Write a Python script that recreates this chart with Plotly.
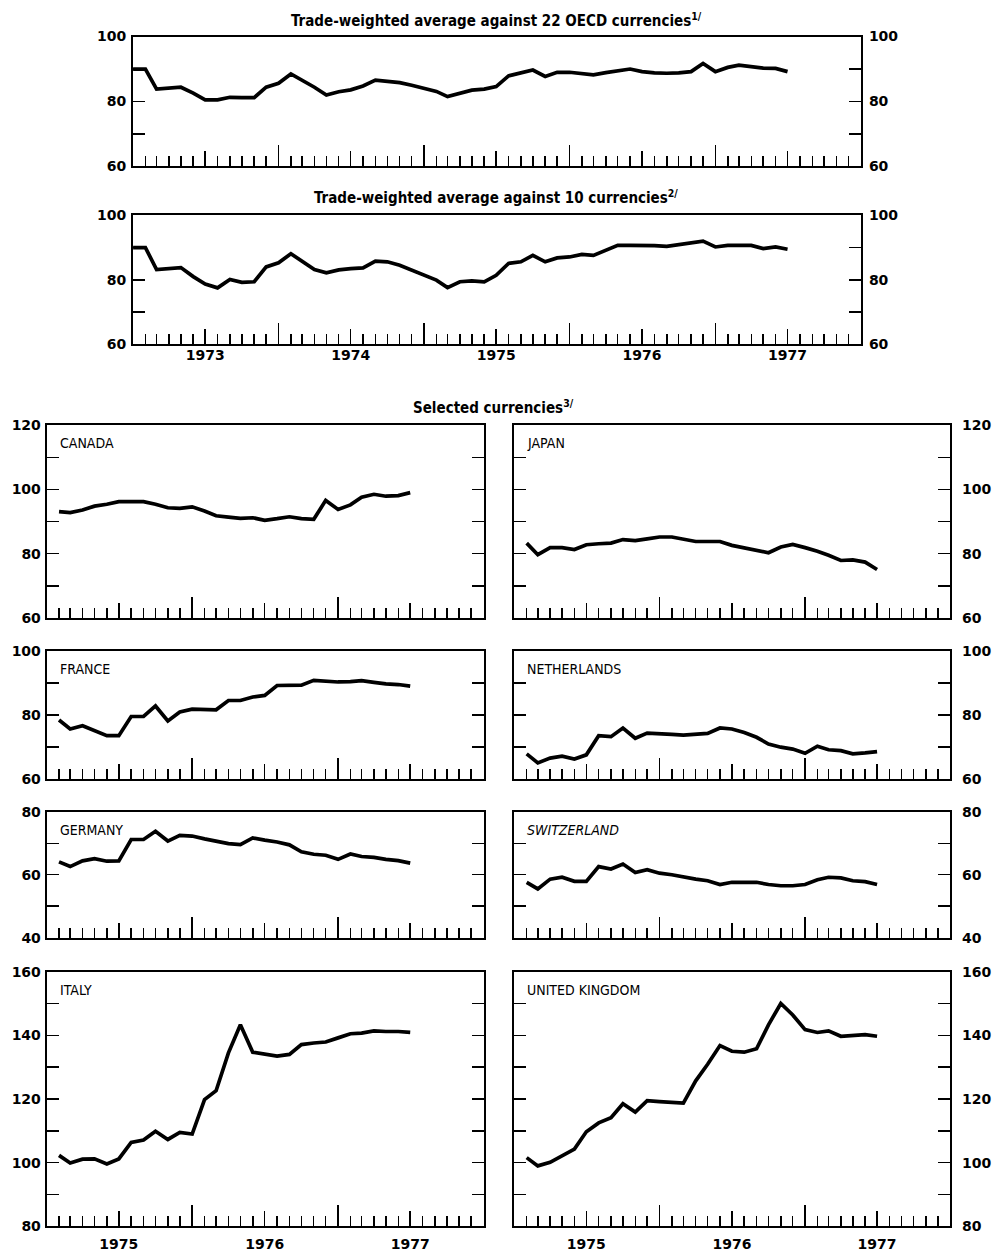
import plotly.graph_objects as go
import pandas as pd

# ---------------- data ----------------
months_top = pd.date_range("1973-01-01", "1977-07-01", freq="MS")   # 55 monthly points
months_low = pd.date_range("1975-02-01", "1977-07-01", freq="MS")   # 30 monthly points

oecd22 = [90.0, 90.0, 83.8, 84.1, 84.4, 82.6, 80.5, 80.5, 81.3, 81.2,
          81.2, 84.4, 85.6, 88.5, 86.6, 84.4, 82.0, 83.0, 83.6, 84.8,
          86.6, 86.3, 85.8, 85.0, 84.0, 83.1, 81.5, 82.5, 83.5, 83.8,
          84.6, 87.9, 88.7, 89.7, 87.7, 89.0, 89.0, 88.5, 88.2, 88.9,
          89.5, 90.0, 89.2, 88.8, 88.7, 88.8, 89.2, 91.7, 89.2, 90.5,
          91.2, 90.8, 90.3, 90.2, 89.2]

ten_currencies = [90.0, 90.0, 83.2, 83.6, 83.8, 81.0, 78.7, 77.5, 80.1, 79.2,
                  79.4, 84.0, 85.3, 88.1, 85.8, 83.2, 82.2, 83.1, 83.5, 83.7,
                  85.8, 85.6, 84.5, 82.9, 81.3, 79.9, 77.6, 79.4, 79.7, 79.4,
                  81.4, 85.1, 85.6, 87.6, 85.6, 86.8, 87.1, 87.9, 87.6, 89.2,
                  90.7, 90.7, 90.7, 90.6, 90.4, 90.9, 91.4, 92.0, 90.2, 90.7,
                  90.7, 90.7, 89.7, 90.2, 89.5]

canada = [93.1, 92.8, 93.6, 94.8, 95.4, 96.2, 96.2, 96.2, 95.4, 94.3,
          94.1, 94.6, 93.3, 91.8, 91.4, 91.0, 91.2, 90.4, 90.9, 91.5,
          90.9, 90.7, 96.6, 93.8, 95.2, 97.6, 98.5, 97.9, 98.1, 99.0]

japan = [83.3, 79.7, 81.9, 81.9, 81.3, 82.8, 83.1, 83.3, 84.4, 84.1,
         84.6, 85.2, 85.2, 84.4, 83.8, 83.8, 83.8, 82.6, 81.8, 81.0,
         80.3, 82.1, 82.9, 81.9, 80.8, 79.5, 77.9, 78.1, 77.4, 75.1]

france = [78.4, 75.6, 76.6, 75.0, 73.5, 73.5, 79.5, 79.5, 82.8, 78.1,
          80.9, 81.8, 81.6, 81.6, 84.5, 84.5, 85.6, 86.1, 89.2, 89.2,
          89.3, 90.8, 90.5, 90.3, 90.4, 90.7, 90.2, 89.7, 89.5, 89.0]

netherlands = [67.8, 65.0, 66.5, 67.1, 66.2, 67.5, 73.5, 73.2, 75.9, 72.7,
               74.3, 74.2, 73.9, 73.7, 74.0, 74.2, 75.9, 75.6, 74.5, 73.0,
               70.9, 69.9, 69.3, 68.0, 70.2, 69.1, 68.8, 67.8, 68.1, 68.5]

germany = [64.1, 62.6, 64.4, 65.1, 64.3, 64.4, 71.2, 71.2, 73.8, 70.7,
           72.5, 72.3, 71.4, 70.7, 69.9, 69.6, 71.7, 71.0, 70.4, 69.5,
           67.3, 66.5, 66.2, 64.9, 66.6, 65.8, 65.5, 64.9, 64.5, 63.7]

switzerland = [57.6, 55.5, 58.6, 59.2, 57.9, 57.9, 62.6, 61.8, 63.4, 60.7,
               61.6, 60.5, 60.0, 59.2, 58.6, 58.1, 56.9, 57.6, 57.6, 57.6,
               56.9, 56.5, 56.5, 56.9, 58.4, 59.2, 59.0, 58.1, 57.8, 56.9]

italy = [102.3, 99.9, 101.1, 101.2, 99.6, 101.2, 106.4, 107.1, 109.9, 107.3,
         109.5, 109.0, 119.8, 122.6, 134.5, 143.3, 134.7, 134.2, 133.5, 134.0,
         137.1, 137.6, 137.9, 139.2, 140.5, 140.7, 141.4, 141.2, 141.2, 140.9]

united_kingdom = [101.6, 99.0, 100.1, 102.3, 104.3, 109.7, 112.5, 114.1, 118.5, 115.9,
                  119.5, 119.2, 118.8, 118.7, 125.7, 130.9, 136.8, 135.0, 134.7, 135.8,
                  143.3, 150.0, 146.4, 141.8, 140.9, 141.4, 139.7, 140.0, 140.2, 139.7]

year_labels_top = ["1973", "1974", "1975", "1976", "1977"]
year_labels_low = ["1975", "1976", "1977"]

titles = ["Trade-weighted average against 22 OECD currencies<sup>1/</sup>",
          "Trade-weighted average against 10 currencies<sup>2/</sup>",
          "Selected currencies<sup>3/</sup>"]

# ---------------- layout helpers ----------------
W, H = 992, 1252
FONT_NUM = "DejaVu Sans"
FONT_COND = "Liberation Sans Narrow, DejaVu Sans Condensed, Arial Narrow, sans-serif"

# vertical calibration of the photographed page (content lands slightly compressed)
V_OFF, V_SCALE = 7.4, 0.9874


def py(t):
    """page-pixel target -> figure pixel"""
    return (t - V_OFF) / V_SCALE


def dom_x(a, b):
    return [a / W, b / W]


def dom_y(a, b):
    return [1 - py(b) / H, 1 - py(a) / H]


def axn(kind, n):
    return f"{kind}axis" if n == 1 else f"{kind}axis{n}"


def axr(kind, n):
    return kind if n == 1 else f"{kind}{n}"


TOP_RANGE = ["1973-01-01", "1978-01-01"]
LOW_RANGE = ["1975-01-01", "1978-01-01"]
LEFT_COL, RIGHT_COL = (47, 487), (518, 957)

# key, series, x, label, box x, box y, y range, y label side, year labels
panels = [
    ("oecd22", oecd22, months_top, None, (134, 867), (36, 166), (60, 100), "both", None),
    ("ten", ten_currencies, months_top, None, (134, 867), (215, 344), (60, 100), "both", year_labels_top),
    ("canada", canada, months_low, "CANADA", LEFT_COL, (425, 618), (60, 120), "left", None),
    ("japan", japan, months_low, "JAPAN", RIGHT_COL, (425, 618), (60, 120), "right", None),
    ("france", france, months_low, "FRANCE", LEFT_COL, (651, 779), (60, 100), "left", None),
    ("nl", netherlands, months_low, "NETHERLANDS", RIGHT_COL, (651, 779), (60, 100), "right", None),
    ("de", germany, months_low, "GERMANY", LEFT_COL, (812, 938), (40, 80), "left", None),
    ("ch", switzerland, months_low, "<i>SWITZERLAND</i>", RIGHT_COL, (812, 938), (40, 80), "right", None),
    ("it", italy, months_low, "ITALY", LEFT_COL, (972, 1227), (80, 160), "left", year_labels_low),
    ("uk", united_kingdom, months_low, "UNITED KINGDOM", RIGHT_COL, (972, 1227), (80, 160), "right", year_labels_low),
]

fig = go.Figure()
layout = dict(
    width=W, height=H,
    margin=dict(l=0, r=0, t=0, b=0),
    paper_bgcolor="white", plot_bgcolor="white",
    showlegend=False, hovermode=False,
    annotations=[],
)

tickfont = dict(family=FONT_NUM, size=14, color="black", weight="bold")
N = len(panels)
extra = N  # counter for extra (overlay) axes

for i, (key, series, xs, label, bx, by, yr, yside, years) in enumerate(panels, start=1):
    xr, yrf = axr("x", i), axr("y", i)
    rng = TOP_RANGE if i <= 2 else LOW_RANGE
    first_year = int(rng[0][:4])
    last_year = int(rng[1][:4])
    july = [f"{y}-07-01" for y in range(first_year, last_year)]
    jan = [f"{y}-01-01" for y in range(first_year + 1, last_year)]

    fig.add_trace(go.Scatter(x=xs, y=series, mode="lines", xaxis=xr, yaxis=yrf,
                             line=dict(color="black", width=3.7), hoverinfo="skip",
                             name=key))

    layout[axn("x", i)] = dict(
        domain=dom_x(*bx), range=rng, type="date", anchor=yrf,
        showline=True, linecolor="black", linewidth=2, mirror=True,
        ticks="inside", ticklen=15, tickwidth=1.5, tickcolor="black",
        tickmode="array", tickvals=july,
        ticktext=(years if years else [" "] * len(july)),
        showticklabels=bool(years), tickfont=tickfont,
        ticklabelstandoff=(-3 if i <= 2 else 4),
        minor=dict(ticks="inside", ticklen=10, tickwidth=1.5, tickcolor="black",
                   tickmode="linear", dtick="M1", tick0=rng[0], showgrid=False),
        showgrid=False, zeroline=False, fixedrange=True,
    )

    yvals = list(range(yr[0], yr[1] + 1, 10))
    ytext = [str(v) if (v - yr[0]) % 20 == 0 else " " for v in yvals]
    ybase = dict(
        range=list(yr), tickmode="array", tickvals=yvals, ticktext=ytext,
        ticks="inside", ticklen=12, tickwidth=1.5, tickcolor="black",
        tickfont=tickfont, showgrid=False, zeroline=False, fixedrange=True,
    )
    standoff = {"both": 2, "left": 1, "right": 7}[yside]
    layout[axn("y", i)] = dict(domain=dom_y(*by), anchor=xr,
                               side=("left" if yside == "both" else yside),
                               showline=True, linecolor="black", linewidth=2,
                               mirror=(True if yside == "both" else "ticks"),
                               ticklabelstandoff=standoff, **ybase)

    # tall January ticks on an overlaid x axis (carries an invisible copy of the series)
    extra += 1
    xo = axr("x", extra)
    layout[axn("x", extra)] = dict(
        overlaying=xr, anchor=yrf, side="bottom", type="date", range=rng,
        ticks="inside", ticklen=21, tickwidth=1.5, tickcolor="black",
        tickmode="array", tickvals=jan, showticklabels=False,
        showgrid=False, zeroline=False, showline=False, fixedrange=True,
    )
    fig.add_trace(go.Scatter(x=xs, y=series, mode="lines", xaxis=xo, yaxis=yrf,
                             line=dict(color="rgba(0,0,0,0)", width=0),
                             hoverinfo="skip", showlegend=False))

    # right-side labels for the two top panels
    if yside == "both":
        yo_n = 100 + i
        yo = axr("y", yo_n)
        layout[axn("y", yo_n)] = dict(overlaying=yrf, anchor=xr, side="right",
                                      showline=False, ticklabelstandoff=7, **ybase)
        fig.add_trace(go.Scatter(x=xs, y=series, mode="lines", xaxis=xr, yaxis=yo,
                                 line=dict(color="rgba(0,0,0,0)", width=0),
                                 hoverinfo="skip", showlegend=False))

    if label:
        layout["annotations"].append(dict(
            text=label, xref=f"{xr} domain", yref=f"{yrf} domain",
            x=0, y=1, xanchor="left", yanchor="middle", xshift=11, yshift=-18,
            showarrow=False, font=dict(family=FONT_COND, size=14, color="black"),
        ))

# titles
title_pos = [(500, 19), (500, 197), (497, 407)]
for t, (tx, ty) in zip(titles, title_pos):
    layout["annotations"].append(dict(
        text=t, xref="paper", yref="paper", x=tx / W, y=1 - py(ty) / H,
        xanchor="center", yanchor="middle", showarrow=False,
        font=dict(family=FONT_COND, size=15, color="black", weight="bold"),
    ))

fig.update_layout(**layout)
fig.write_html(
    "out.html",
    config={"displayModeBar": False, "staticPlot": True},
    post_script=("document.documentElement.style.margin='0';"
                 "document.body.style.margin='0';document.body.style.padding='0';"
                 "document.body.style.overflow='hidden';"),
)
